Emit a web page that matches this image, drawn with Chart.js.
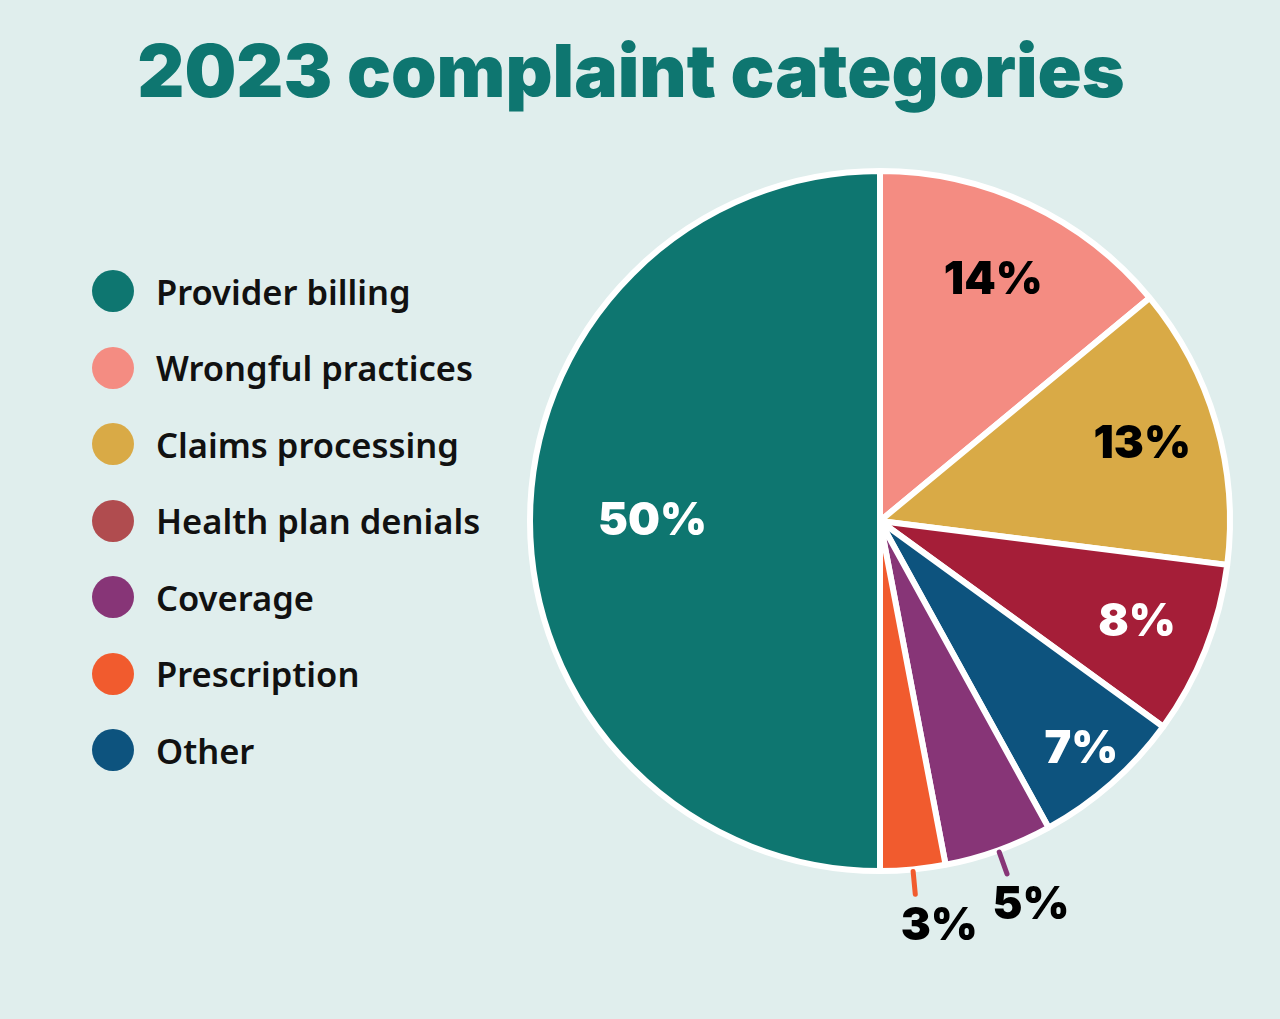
<!DOCTYPE html>
<html>
<head>
<meta charset="utf-8">
<script src="https://cdn.jsdelivr.net/npm/chart.js@4/dist/chart.umd.min.js"></script>
<style>
  html,body{margin:0;padding:0;background:#e0eeed;}
  #wrap{position:relative;width:1280px;height:1019px;overflow:hidden;}
  h1{position:absolute;left:0;top:27px;width:1262px;margin:0;text-align:center;
     font-family:Inter,Lato,sans-serif;font-weight:900;font-size:73px;color:#0e7670;letter-spacing:0px;line-height:1.2;}
  #legend{position:absolute;left:92px;top:253px;}
  .li{display:flex;align-items:center;height:76.5px;}
  .dot{width:42px;height:42px;border-radius:50%;margin-right:22px;}
  .li span{font-family:"Noto Sans",Lato,sans-serif;font-weight:600;font-size:34.5px;color:#111;}
  #c{position:absolute;left:0;top:0;}
</style>
</head>
<body>
<div id="wrap">
  <h1>2023 complaint categories</h1>
  <div id="legend"></div>
  <canvas id="c" width="1280" height="1019"></canvas>
</div>
<script>
// legend (order and swatches as printed)
const legendLabels=['Provider billing','Wrongful practices','Claims processing','Health plan denials','Coverage','Prescription','Other'];
const legendColors=['#0e7670','#f48c82','#d9aa46','#b04c4f','#873577','#f15b2e','#0d537e'];

// pie slices, clockwise from 12 o'clock
const sliceLabels=['Wrongful practices','Claims processing','Health plan denials','Other','Coverage','Prescription','Provider billing'];
const sliceValues=[14,13,8,7,5,3,50];
const sliceColors=['#f48c82','#d9aa46','#a51e38','#0d537e','#873577','#f15b2e','#0e7670'];
const textColors=['#000','#000','#fff','#fff','#000','#000','#fff'];
const labelPos=[0.76,0.78,0.79,0.87,0,0,0.65]; // 0 = outside with leader

let h='';
legendLabels.forEach((t,i)=>{h+=`<div class="li"><div class="dot" style="background:${legendColors[i]}"></div><span>${t}</span></div>`});
document.getElementById('legend').innerHTML=h;

const pctLabels={
  id:'pctLabels',
  afterDatasetsDraw(chart){
    const ctx=chart.ctx;
    const meta=chart.getDatasetMeta(0);
    ctx.save();
    ctx.font='900 45px Inter, Lato, sans-serif';
    ctx.textAlign='center';ctx.textBaseline='middle';
    meta.data.forEach((arc,i)=>{
      const {x,y,startAngle,endAngle,outerRadius}=arc.getProps(['x','y','startAngle','endAngle','outerRadius'],true);
      const a=(startAngle+endAngle)/2;
      const txt=sliceValues[i]+'%';
      if(labelPos[i]>0){
        const r=outerRadius*labelPos[i];
        ctx.fillStyle=textColors[i];
        ctx.fillText(txt,x+Math.cos(a)*r,y+Math.sin(a)*r);
      }else{
        const r1=outerRadius+2,r2=outerRadius+25;
        const ex=x+Math.cos(a)*r2,ey=y+Math.sin(a)*r2;
        ctx.strokeStyle=sliceColors[i];ctx.lineWidth=5;ctx.lineCap='round';
        ctx.beginPath();ctx.moveTo(x+Math.cos(a)*r1,y+Math.sin(a)*r1);ctx.lineTo(ex,ey);ctx.stroke();
        ctx.fillStyle=textColors[i];
        ctx.fillText(txt,ex+24,ey+32);
      }
    });
    ctx.restore();
  }
};

new Chart(document.getElementById('c'),{
  type:'pie',
  data:{labels:sliceLabels,datasets:[{data:sliceValues,backgroundColor:sliceColors,
    borderColor:'#ffffff',borderWidth:6,hoverOffset:0}]},
  options:{responsive:false,animation:false,
    layout:{padding:{left:527,right:47,top:168,bottom:145}},
    plugins:{legend:{display:false},tooltip:{enabled:false}}},
  plugins:[pctLabels]
});
</script>
</body>
</html>
